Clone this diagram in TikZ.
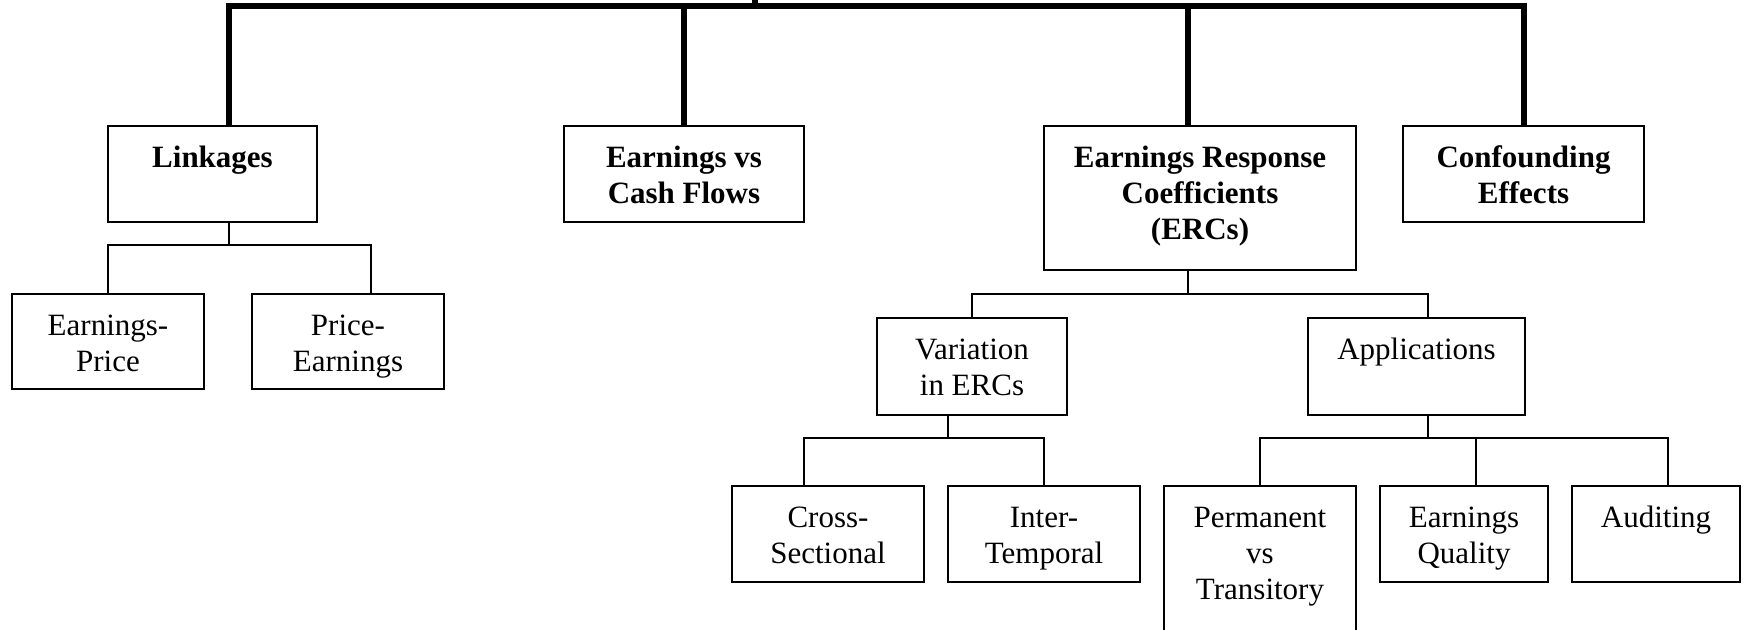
\documentclass[tikz,border=0pt]{standalone}
\usepackage{fontspec}
\setmainfont{Liberation Serif}
\begin{document}
\begin{tikzpicture}[x=0.5pt,y=-0.5pt,
  boxa/.style={draw, line width=1.2pt, inner sep=0pt, font=\fontsize{15.5}{18}\selectfont\bfseries},
  boxb/.style={draw, line width=0.9pt, inner sep=0pt, font=\fontsize{15.5}{18}\selectfont},
  thickc/.style={line width=2.7pt, line join=miter},
  thinc/.style={line width=0.9pt}]
\useasboundingbox (0,0) rectangle (1749,629);
\newcommand\bxt[3]{\parbox[c][#2pt][t]{#1pt}{\centering\rule{0pt}{20.5pt}#3}}
% level 1
\node[boxa] (link) at (212.5,174) {\bxt{104.5}{48}{Linkages}};
\node[boxa] (evcf) at (684,174) {\bxt{120}{48}{Earnings vs\\Cash Flows}};
\node[boxa] (erc) at (1200,198) {\bxt{156}{72}{Earnings Response\\Coefficients\\(ERCs)}};
\node[boxa] (conf) at (1523.5,174) {\bxt{120.5}{48}{Confounding\\Effects}};
% level 2
\node[boxb] (ep) at (108,341.5) {\bxt{96}{47.5}{Earnings-\\Price}};
\node[boxb] (pe) at (348,341.5) {\bxt{96}{47.5}{Price-\\Earnings}};
\node[boxb] (var) at (972,366.5) {\bxt{95}{48.5}{Variation\\in ERCs}};
\node[boxb] (app) at (1416.5,366.5) {\bxt{108.5}{48.5}{Applications}};
% level 3
\node[boxb] (cross) at (828,534) {\bxt{96}{48}{Cross-\\Sectional}};
\node[boxb] (inter) at (1044,534) {\bxt{96}{48}{Inter-\\Temporal}};
\node[boxb] (perm) at (1260,573) {\bxt{96}{87}{Permanent\\vs\\Transitory}};
\node[boxb] (eq) at (1464,534) {\bxt{84}{48}{Earnings\\Quality}};
\node[boxb] (aud) at (1656,534) {\bxt{84}{48}{Auditing}};
% top bar
\coordinate (root) at (755,-20);
\coordinate (t1) at (229,6);
\coordinate (t2) at (684,6);
\coordinate (t3) at (1188,6);
\coordinate (t4) at (1524,6);
\draw[thickc] (t1 |- link.north) -- (t1) -- (t4) -- (t4 |- conf.north);
\draw[thickc] (root) -- (root |- t1);
\draw[thickc] (t2) -- (t2 |- evcf.north);
\draw[thickc] (t3) -- (t3 |- erc.north);
% linkages children
\coordinate (l1) at (229,245);
\coordinate (l2) at (371,245);
\draw[thinc] (l1 |- link.south) -- (l1);
\draw[thinc] (ep.north) |- (l2) -- (l2 |- pe.north);
% ERC children
\coordinate (e1) at (1188,294);
\coordinate (e2) at (1428,294);
\draw[thinc] (e1 |- erc.south) -- (e1);
\draw[thinc] (var.north) |- (e2) -- (e2 |- app.north);
% variation children
\coordinate (v1) at (948,438);
\coordinate (v2) at (804,438);
\coordinate (v3) at (1044,438);
\draw[thinc] (v1 |- var.south) -- (v1);
\draw[thinc] (v2 |- cross.north) -- (v2) -- (v3) -- (inter.north);
% applications children
\coordinate (a1) at (1428,438);
\coordinate (a2) at (1476,438);
\coordinate (a3) at (1668,438);
\draw[thinc] (a1 |- app.south) -- (a1);
\draw[thinc] (perm.north) |- (a3) -- (a3 |- aud.north);
\draw[thinc] (a2) -- (a2 |- eq.north);
\end{tikzpicture}
\end{document}
